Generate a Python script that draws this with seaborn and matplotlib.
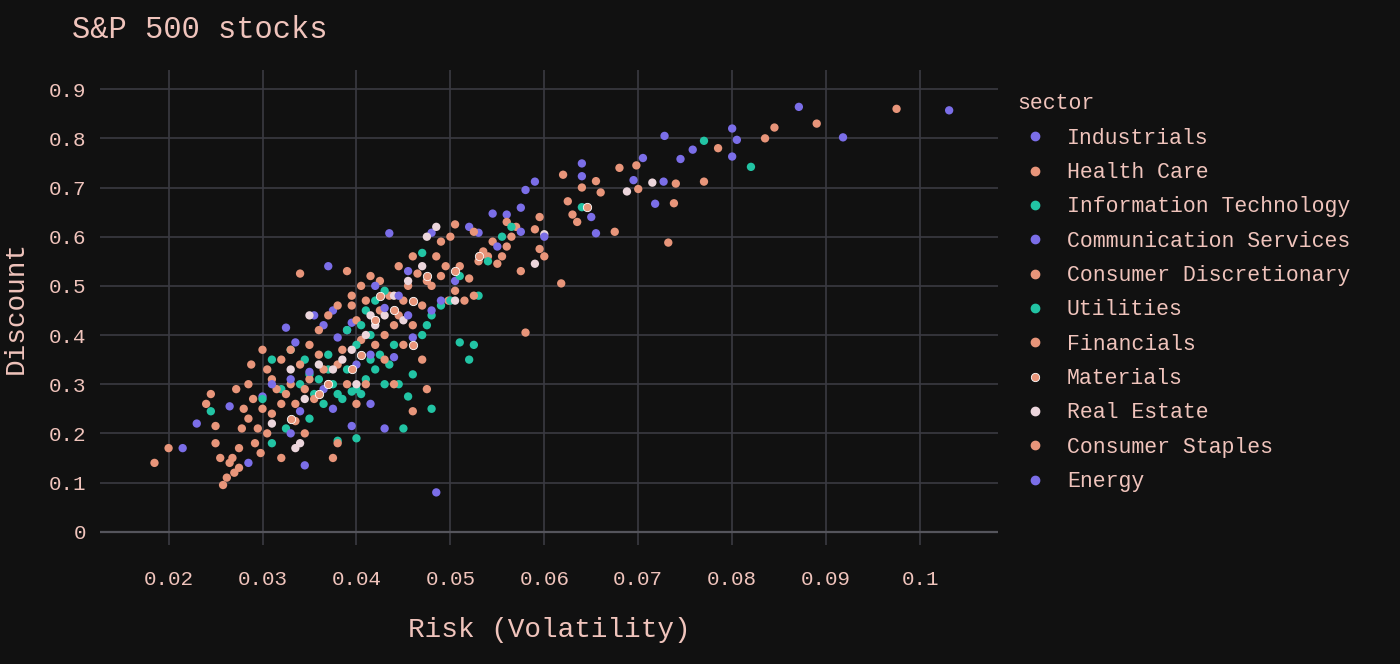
import matplotlib
matplotlib.use("Agg")
import matplotlib.pyplot as plt
from matplotlib.lines import Line2D
import seaborn as sns
import pandas as pd

# --- data (risk, discount) per sector ---
industrials = [(0.1031, 0.857), (0.0918, 0.802), (0.0871, 0.864), (0.0800, 0.820), (0.0805, 0.797),
               (0.0800, 0.763), (0.0758, 0.777), (0.0745, 0.758), (0.0728, 0.805), (0.0727, 0.712),
               (0.0718, 0.667), (0.0705, 0.760), (0.0695, 0.715), (0.0655, 0.607), (0.0650, 0.640),
               (0.0640, 0.749), (0.0640, 0.723), (0.0590, 0.712), (0.0580, 0.695), (0.0575, 0.659),
               (0.0560, 0.645), (0.0545, 0.647)]
communication = [(0.0575, 0.610), (0.0520, 0.620), (0.0480, 0.608), (0.0435, 0.607), (0.0530, 0.608),
                 (0.0505, 0.510), (0.0485, 0.080), (0.0430, 0.210), (0.0345, 0.135), (0.0285, 0.140),
                 (0.0230, 0.220), (0.0215, 0.170), (0.0265, 0.255), (0.0300, 0.275), (0.0325, 0.415),
                 (0.0335, 0.385), (0.0370, 0.540), (0.0375, 0.450), (0.0365, 0.420), (0.0355, 0.440),
                 (0.0390, 0.410), (0.0395, 0.425)]
energy = [(0.0380, 0.395), (0.0350, 0.325), (0.0330, 0.310), (0.0310, 0.300), (0.0330, 0.200),
          (0.0340, 0.245), (0.0395, 0.215), (0.0365, 0.290), (0.0400, 0.340), (0.0415, 0.360),
          (0.0430, 0.455), (0.0445, 0.480), (0.0460, 0.395), (0.0440, 0.355), (0.0455, 0.440),
          (0.0420, 0.500), (0.0415, 0.260), (0.0375, 0.250), (0.0490, 0.470), (0.0550, 0.580),
          (0.0600, 0.600), (0.0455, 0.530), (0.0480, 0.450)]
health_care = [(0.0975, 0.860), (0.0890, 0.830), (0.0845, 0.822), (0.0835, 0.800), (0.0785, 0.780),
               (0.0770, 0.712), (0.0740, 0.708), (0.0738, 0.668), (0.0732, 0.588), (0.0700, 0.697),
               (0.0698, 0.745), (0.0680, 0.740), (0.0675, 0.610), (0.0660, 0.690), (0.0655, 0.713),
               (0.0640, 0.700), (0.0635, 0.630), (0.0630, 0.645), (0.0625, 0.672), (0.0620, 0.726),
               (0.0618, 0.505), (0.0600, 0.560), (0.0595, 0.575), (0.0595, 0.640), (0.0590, 0.615),
               (0.0580, 0.405), (0.0575, 0.530), (0.0570, 0.620), (0.0565, 0.600), (0.0560, 0.630)]
consumer_disc = [(0.0555, 0.560), (0.0550, 0.545), (0.0540, 0.560), (0.0530, 0.550), (0.0525, 0.610),
                 (0.0520, 0.515), (0.0510, 0.540), (0.0505, 0.625), (0.0500, 0.600), (0.0498, 0.470),
                 (0.0495, 0.540), (0.0490, 0.590), (0.0485, 0.560), (0.0480, 0.500), (0.0475, 0.290),
                 (0.0470, 0.350), (0.0460, 0.245), (0.0465, 0.525), (0.0455, 0.500), (0.0450, 0.470),
                 (0.0445, 0.440), (0.0440, 0.420), (0.0435, 0.480), (0.0430, 0.400), (0.0425, 0.450),
                 (0.0420, 0.430), (0.0415, 0.520), (0.0410, 0.470), (0.0405, 0.390), (0.0400, 0.430)]
financials = [(0.0395, 0.460), (0.0390, 0.530), (0.0385, 0.370), (0.0380, 0.340), (0.0375, 0.150),
              (0.0370, 0.300), (0.0365, 0.330), (0.0360, 0.360), (0.0355, 0.270), (0.0350, 0.310),
              (0.0345, 0.290), (0.0340, 0.525), (0.0340, 0.340), (0.0335, 0.260), (0.0330, 0.300),
              (0.0325, 0.280), (0.0320, 0.350), (0.0315, 0.290), (0.0310, 0.240), (0.0305, 0.330),
              (0.0300, 0.370), (0.0300, 0.250), (0.0298, 0.160), (0.0295, 0.210), (0.0290, 0.270),
              (0.0288, 0.340), (0.0285, 0.300), (0.0280, 0.250), (0.0278, 0.210), (0.0275, 0.130),
              (0.0272, 0.290), (0.0270, 0.120), (0.0268, 0.150), (0.0265, 0.140), (0.0262, 0.110),
              (0.0258, 0.095), (0.0255, 0.150), (0.0250, 0.215), (0.0245, 0.280), (0.0240, 0.260),
              (0.0200, 0.170), (0.0185, 0.140)]
consumer_staples = [(0.0320, 0.150), (0.0335, 0.225), (0.0345, 0.200), (0.0380, 0.180), (0.0390, 0.300),
                    (0.0400, 0.260), (0.0410, 0.300), (0.0420, 0.380), (0.0430, 0.350), (0.0440, 0.300),
                    (0.0450, 0.380), (0.0460, 0.420), (0.0470, 0.460), (0.0475, 0.510), (0.0490, 0.520),
                    (0.0505, 0.490), (0.0515, 0.470), (0.0525, 0.480), (0.0535, 0.570), (0.0545, 0.590),
                    (0.0560, 0.580), (0.0350, 0.380), (0.0360, 0.410), (0.0370, 0.440), (0.0380, 0.460),
                    (0.0395, 0.480), (0.0405, 0.500), (0.0425, 0.510), (0.0445, 0.540), (0.0460, 0.560),
                    (0.0310, 0.310), (0.0320, 0.260), (0.0330, 0.370), (0.0285, 0.230), (0.0292, 0.180),
                    (0.0305, 0.200), (0.0275, 0.170), (0.0250, 0.180)]
info_tech = [(0.0820, 0.742), (0.0770, 0.795), (0.0470, 0.567), (0.0510, 0.385), (0.0520, 0.350),
             (0.0525, 0.380), (0.0480, 0.250), (0.0450, 0.210), (0.0400, 0.190), (0.0380, 0.185),
             (0.0350, 0.230), (0.0310, 0.180), (0.0325, 0.210), (0.0245, 0.245), (0.0330, 0.370),
             (0.0350, 0.320), (0.0360, 0.310), (0.0370, 0.330), (0.0375, 0.300), (0.0380, 0.280),
             (0.0385, 0.270), (0.0390, 0.330), (0.0395, 0.285), (0.0400, 0.290), (0.0405, 0.280),
             (0.0410, 0.310), (0.0415, 0.350), (0.0420, 0.330), (0.0425, 0.360), (0.0430, 0.300)]
utilities = [(0.0435, 0.340), (0.0440, 0.380), (0.0445, 0.300), (0.0455, 0.275), (0.0460, 0.320),
             (0.0470, 0.400), (0.0475, 0.420), (0.0480, 0.440), (0.0490, 0.460), (0.0500, 0.470),
             (0.0510, 0.520), (0.0530, 0.480), (0.0540, 0.550), (0.0555, 0.600), (0.0565, 0.620),
             (0.0400, 0.380), (0.0405, 0.420), (0.0410, 0.450), (0.0420, 0.470), (0.0430, 0.490),
             (0.0390, 0.410), (0.0370, 0.360), (0.0340, 0.300), (0.0320, 0.290), (0.0300, 0.270),
             (0.0310, 0.350), (0.0355, 0.280), (0.0365, 0.260), (0.0345, 0.350), (0.0415, 0.400),
             (0.0640, 0.660)]
materials = [(0.0645, 0.660), (0.0530, 0.560), (0.0475, 0.520), (0.0460, 0.470), (0.0440, 0.450),
             (0.0420, 0.430), (0.0405, 0.360), (0.0395, 0.330), (0.0370, 0.300), (0.0360, 0.280),
             (0.0330, 0.230), (0.0460, 0.380), (0.0425, 0.480), (0.0505, 0.530)]
real_estate = [(0.0688, 0.692), (0.0715, 0.710), (0.0600, 0.605), (0.0590, 0.545), (0.0505, 0.470),
               (0.0470, 0.540), (0.0455, 0.510), (0.0440, 0.480), (0.0430, 0.440), (0.0420, 0.420),
               (0.0410, 0.400), (0.0395, 0.370), (0.0385, 0.350), (0.0375, 0.330), (0.0360, 0.340),
               (0.0345, 0.270), (0.0340, 0.180), (0.0335, 0.170), (0.0310, 0.220), (0.0330, 0.330),
               (0.0475, 0.600), (0.0485, 0.620), (0.0415, 0.440), (0.0400, 0.300), (0.0350, 0.440),
               (0.0450, 0.430)]

sectors = {
    "Industrials": industrials,
    "Health Care": health_care,
    "Information Technology": info_tech,
    "Communication Services": communication,
    "Consumer Discretionary": consumer_disc,
    "Utilities": utilities,
    "Financials": financials,
    "Materials": materials,
    "Real Estate": real_estate,
    "Consumer Staples": consumer_staples,
    "Energy": energy,
}

PURPLE, SALMON, TEAL, PINK = "#7b6ee8", "#e8957a", "#22c4a4", "#ecd6dc"
palette = {
    "Industrials": PURPLE, "Health Care": SALMON, "Information Technology": TEAL,
    "Communication Services": PURPLE, "Consumer Discretionary": SALMON, "Utilities": TEAL,
    "Financials": SALMON, "Materials": SALMON, "Real Estate": PINK,
    "Consumer Staples": SALMON, "Energy": PURPLE,
}

rows = [(name, x, y) for name, pts in sectors.items() for x, y in pts]
df = pd.DataFrame(rows, columns=["sector", "risk", "discount"])

BG = "#111111"
TXT = "#f0c4bc"
GRID = "#3a3a42"
FONT = ["Liberation Mono", "DejaVu Sans Mono"]

sns.set_style("dark")
plt.rcParams["font.family"] = FONT

fig = plt.figure(figsize=(14, 6.64), dpi=100, facecolor=BG)
ax = fig.add_axes([100 / 1400, 1 - 545 / 664, 898 / 1400, 475 / 664])
ax.set_facecolor(BG)

plot_df = df[df.sector != "Materials"]
sns.scatterplot(data=plot_df, x="risk", y="discount", hue="sector", palette=palette,
                s=36, linewidth=0, ax=ax, legend=False, zorder=3)
mat = df[df.sector == "Materials"]
ax.scatter(mat.risk, mat.discount, s=36, color=SALMON, edgecolor="white",
           linewidth=0.6, zorder=3)

ax.set_xlim(0.0127, 0.1083)
ax.set_ylim(-0.027, 0.939)
ax.set_xticks([0.02, 0.03, 0.04, 0.05, 0.06, 0.07, 0.08, 0.09, 0.1])
ax.set_xticklabels(["0.02", "0.03", "0.04", "0.05", "0.06", "0.07", "0.08", "0.09", "0.1"])
ax.set_yticks([0, 0.1, 0.2, 0.3, 0.4, 0.5, 0.6, 0.7, 0.8, 0.9])
ax.set_yticklabels(["0", "0.1", "0.2", "0.3", "0.4", "0.5", "0.6", "0.7", "0.8", "0.9"])
ax.grid(True, color=GRID, linewidth=1.2)
ax.axhline(0, color="#55555c", linewidth=1.6, zorder=1)
for s in ax.spines.values():
    s.set_visible(False)
ax.tick_params(colors=TXT, labelsize=15, length=0)
ax.tick_params(axis="x", pad=18)
ax.tick_params(axis="y", pad=10)
ax.set_xlabel("Risk (Volatility)", color=TXT, fontsize=20, labelpad=20)
ax.set_ylabel("Discount", color=TXT, fontsize=20, labelpad=14)

fig.text(72 / 1400, 1 - 30 / 664, "S&P 500 stocks", color=TXT, fontsize=22,
         va="center", ha="left")

handles = []
for name in sectors:
    if name == "Materials":
        h = Line2D([], [], marker="o", ls="", color=SALMON, markeredgecolor="white",
                   markeredgewidth=0.6, markersize=6)
    else:
        h = Line2D([], [], marker="o", ls="", color=palette[name], markersize=6)
    handles.append(h)
leg = fig.legend(handles, list(sectors), loc="upper left",
                 bbox_to_anchor=(998 / 1400, 1 - 74 / 664), frameon=False,
                 title="sector", alignment="left", fontsize=15.5, title_fontsize=15.5,
                 labelspacing=0.62, handletextpad=0.7, handlelength=1.6)
for t in leg.get_texts():
    t.set_color(TXT)
leg.get_title().set_color(TXT)

fig.savefig("out.png", dpi=100, facecolor=BG)
